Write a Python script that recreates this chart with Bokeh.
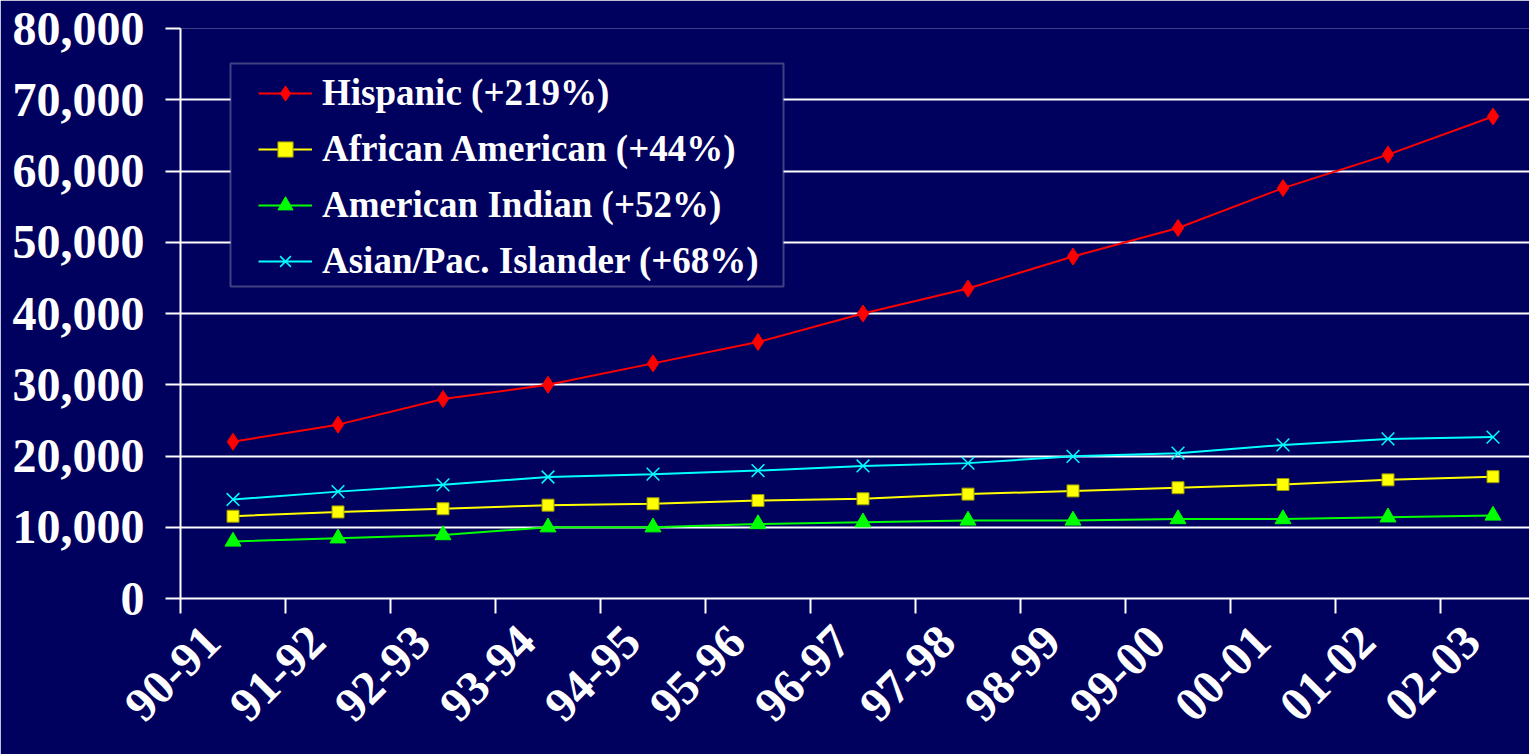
import numpy as np
from bokeh.plotting import figure
from bokeh.models import (Legend, LegendItem, FixedTicker, NumeralTickFormatter,
                          BoxAnnotation)
from bokeh.embed import file_html
from bokeh.resources import INLINE

# ---- data ----
years = ["90-91", "91-92", "92-93", "93-94", "94-95", "95-96", "96-97",
         "97-98", "98-99", "99-00", "00-01", "01-02", "02-03"]
hispanic = [22000, 24400, 28000, 30000, 33000, 36000, 40000,
            43500, 48000, 52000, 57600, 62300, 67650]
african_american = [11550, 12150, 12600, 13100, 13300, 13750, 14000,
                     14650, 15100, 15550, 16000, 16650, 17100]
american_indian = [8000, 8450, 8900, 10000, 10000, 10450, 10700,
                   10950, 10950, 11150, 11150, 11400, 11650]
asian_pacific = [13900, 15000, 15950, 17050, 17450, 17950, 18600,
                 19000, 19950, 20400, 21550, 22400, 22650]
series_names = ["Hispanic (+219%)", "African American (+44%)",
                "American Indian (+52%)", "Asian/Pac. Islander (+68%)"]
y_ticks = [0, 10000, 20000, 30000, 40000, 50000, 60000, 70000, 80000]

BG = "#00005E"
FONT = "Liberation Serif"

x = np.arange(len(years))

p = figure(width=1529, height=754, x_range=(-0.5, -0.5 + 1349 / 105.0),
           y_range=(0, 80000), output_backend="svg", toolbar_location=None,
           min_border_left=180, min_border_right=0, min_border_top=28,
           min_border_bottom=156)
p.background_fill_color = BG
p.border_fill_color = BG
p.outline_line_color = None

# grid
p.xgrid.grid_line_color = None
p.ygrid.grid_line_color = "white"
p.ygrid.grid_line_width = 2
p.ygrid.ticker = FixedTicker(ticks=y_ticks)

# y axis
p.yaxis.ticker = FixedTicker(ticks=y_ticks)
p.yaxis.formatter = NumeralTickFormatter(format="0,0")
p.yaxis.axis_line_color = "white"
p.yaxis.axis_line_width = 2
p.yaxis.major_tick_line_color = "white"
p.yaxis.major_tick_line_width = 2
p.yaxis.major_tick_out = 15
p.yaxis.major_tick_in = 0
p.yaxis.minor_tick_line_color = None
p.yaxis.major_label_text_color = "white"
p.yaxis.major_label_text_font = FONT
p.yaxis.major_label_text_font_style = "bold"
p.yaxis.major_label_text_font_size = "48px"
p.yaxis.major_label_standoff = 21

# x axis: labels (slightly left of each category centre), ticks at boundaries
label_pos = [float(i) - 0.2 for i in x]
p.xaxis.ticker = FixedTicker(ticks=label_pos,
                             minor_ticks=list(np.arange(len(years) + 1) - 0.5))
p.xaxis.major_label_overrides = {pos: lab for pos, lab in zip(label_pos, years)}
p.xaxis.axis_line_color = "white"
p.xaxis.axis_line_width = 2
p.xaxis.major_tick_line_color = None
p.xaxis.major_tick_out = 0
p.xaxis.major_tick_in = 0
p.xaxis.minor_tick_line_color = "white"
p.xaxis.minor_tick_line_width = 2
p.xaxis.minor_tick_out = 15
p.xaxis.minor_tick_in = 0
p.xaxis.major_label_orientation = np.pi / 4
p.xaxis.major_label_text_color = "white"
p.xaxis.major_label_text_font = FONT
p.xaxis.major_label_text_font_style = "bold"
p.xaxis.major_label_text_font_size = "48px"
p.xaxis.major_label_standoff = 20

# series: (values, colour, marker, size, outline)
specs = [
    (hispanic, "#FF0000", "diamond", 17, "#FF0000"),
    (african_american, "#FFFF00", "square", 12, "#9A9A00"),
    (american_indian, "#00FF00", "triangle", 16, "#00FF00"),
    (asian_pacific, "#00FFFF", "x", 18, "#00FFFF"),
]
items = []
for (vals, color, marker, size, outline), name in zip(specs, series_names):
    ln = p.line(x, vals, line_color=color, line_width=2)
    if marker == "x":
        mk = p.scatter(x, vals, marker="x", size=size, line_color=color,
                       line_width=1.5)
    else:
        mk = p.scatter(x, vals, marker=marker, size=size,
                       fill_color=color, line_color=outline)
    items.append(LegendItem(label=name, renderers=[ln, mk]))

box = BoxAnnotation(left=230, right=783, top=63, bottom=286,
                    left_units="canvas", right_units="canvas",
                    top_units="canvas", bottom_units="canvas",
                    fill_color=BG, fill_alpha=1.0,
                    line_color="#D8D8D8", line_width=2)
p.add_layout(box)

legend = Legend(items=items, location=(78, 316), padding=0, spacing=13,
                glyph_width=54, glyph_height=38, label_standoff=10,
                label_text_color="white", label_text_font=FONT,
                label_text_font_style="bold", label_text_font_size="37px",
                background_fill_alpha=0, border_line_alpha=0, margin=0)
p.add_layout(legend)

open("out.html", "w").write(file_html(p, INLINE))
